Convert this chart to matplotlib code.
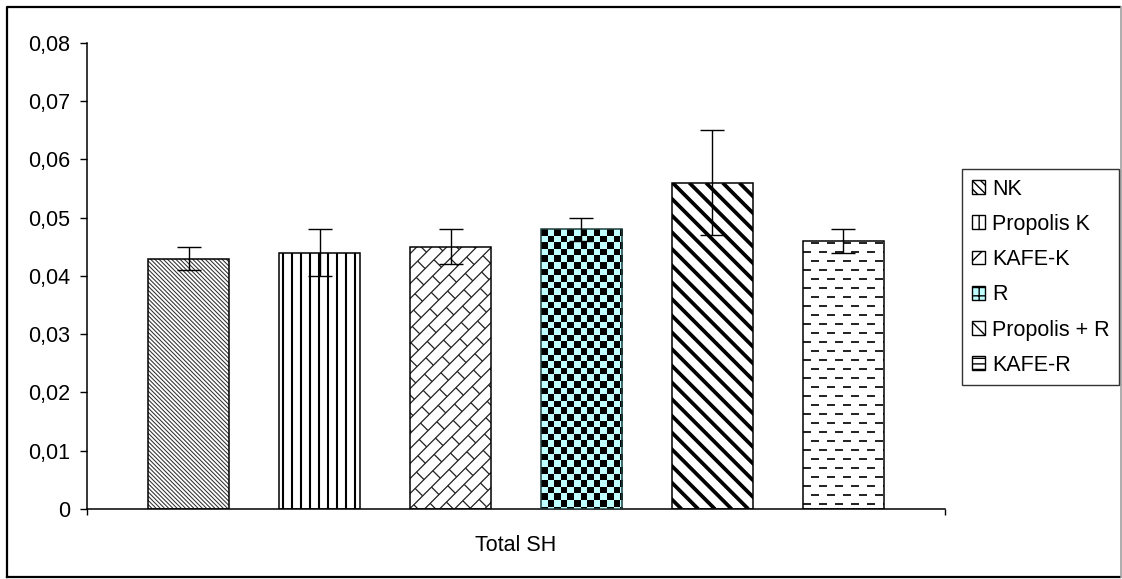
import numpy as np
import matplotlib
matplotlib.use("Agg")
import matplotlib.pyplot as plt
from matplotlib.collections import LineCollection
from matplotlib.patches import Patch
from matplotlib.lines import Line2D
from matplotlib.transforms import IdentityTransform
from matplotlib.ticker import FuncFormatter

plt.rcParams['font.family'] = ['Liberation Sans', 'DejaVu Sans']

# data
groups = ['NK', 'Propolis K', 'KAFE-K', 'R', 'Propolis + R', 'KAFE-R']
values = [0.043, 0.044, 0.045, 0.048, 0.056, 0.046]
errors = [0.002, 0.004, 0.003, 0.002, 0.009, 0.002]
category = 'Total SH'
yticks = [0, 0.01, 0.02, 0.03, 0.04, 0.05, 0.06, 0.07, 0.08]

W, H = 1122, 579
fig = plt.figure(figsize=(W / 100, H / 100), dpi=100)
ax = fig.add_axes([87 / W, (H - 509) / H, 858 / W, 466 / H])

xpos = np.arange(len(groups)) - 2.5
bw = 0.625
edge_cols = ['black', 'black', 'black', '#1f3f3f', 'black', 'black']
bars = ax.bar(xpos, values, width=bw, color='white', edgecolor='none', zorder=2)
ax.bar(xpos, values, width=bw, fill=False, edgecolor=edge_cols, linewidth=1.1, zorder=4)
ax.errorbar(xpos, values, yerr=errors, fmt='none', ecolor='black', elinewidth=1.0,
            capsize=8.6, capthick=1.0, zorder=5)

ax.set_xlim(-3.275, 3.275)
ax.set_ylim(0, 0.08)


def box_px(b):
    (x0, y0), (x1, y1) = ax.transData.transform([(b.get_x(), 0), (b.get_x() + b.get_width(), b.get_height())])
    return x0, y0, x1, y1


def diag(x0, y0, x1, y1, p, back=True):
    segs = []
    if back:  # "\" : x + y = c
        for c in np.arange(np.floor((x0 + y0) / p) * p, x1 + y1 + p, p):
            segs.append([(c - y0, y0), (c - y1, y1)])
    else:     # "/" : x - y = c
        for c in np.arange(np.floor((x0 - y1) / p) * p, x1 - y0 + p, p):
            segs.append([(c + y0, y0), (c + y1, y1)])
    return segs


def vert(x0, y0, x1, y1, p):
    return [[(x, y0), (x, y1)] for x in np.arange(x0 + 4, x1, p)]


def dashes(x0, y0, x1, y1, dy=9.0, dl=8.0, per=16.0):
    segs = []
    for r, y in enumerate(np.arange(y0 + 5, y1, dy)):
        for x in np.arange(x0 - (r % 2) * per / 2, x1, per):
            segs.append([(x, y), (x + dl, y)])
    return segs


def bricks(x0, y0, x1, y1, s=10.6, L=25.0):
    d1 = np.array([1, 1]) / np.sqrt(2)
    d2 = np.array([1, -1]) / np.sqrt(2)
    o = np.array([x0, y0])
    span = (x1 - x0) + (y1 - y0)
    segs = []
    for k in range(int(-span / s) - 2, int(span / s) + 3):
        v = k * s
        segs.append([o + (-span) * d1 + v * d2, o + (2 * span) * d1 + v * d2])
        for j in np.arange(-span / L - 2, 2 * span / L + 2):
            u = (j + 0.5 * (k % 2)) * L
            segs.append([o + u * d1 + v * d2, o + u * d1 + (v + s) * d2])
    return segs


def add_lines(b, segs, lw, color='black'):
    lc = LineCollection(segs, colors=color, linewidths=lw, transform=IdentityTransform(), zorder=3)
    ax.add_collection(lc, autolim=False)
    lc.set_clip_path(b)


b = bars[0]
add_lines(b, diag(*box_px(b), 4.2, back=True), 0.75, '#303030')
b = bars[1]
add_lines(b, vert(*box_px(b), 9.0), 1.5)
b = bars[2]
add_lines(b, bricks(*box_px(b)), 0.9, '#202020')
b = bars[3]
x0, y0, x1, y1 = box_px(b)
nx = int(np.ceil((x1 - x0) / 6.6))
ny = int(np.ceil((y1 - y0) / 6.6))
ii, jj = np.indices((ny, nx))
cell = 6.6 / (x1 - x0) * b.get_width()
cellh = 6.6 / (y1 - y0) * b.get_height()
checker = np.where((ii + jj) % 2 == 0, 0, 1)
im = ax.imshow(checker, cmap=matplotlib.colors.ListedColormap(['black', '#bfffff']),
               extent=[b.get_x(), b.get_x() + nx * cell, b.get_height() - ny * cellh, b.get_height()],
               aspect='auto', interpolation='nearest', zorder=3)
im.set_clip_path(b)
b = bars[4]
add_lines(b, diag(*box_px(b), 16.7, back=True), 2.7)
b = bars[5]
add_lines(b, dashes(*box_px(b)), 1.4, '#202020')

ax.set_xlim(-3.275, 3.275)
ax.set_ylim(0, 0.08)

# axes styling
for s in ['top', 'right']:
    ax.spines[s].set_visible(False)
ax.spines['left'].set_linewidth(1.1)
ax.spines['bottom'].set_linewidth(1.1)
ax.set_yticks(yticks)
ax.yaxis.set_major_formatter(FuncFormatter(lambda v, p: '0' if v == 0 else f'{v:.2f}'.replace('.', ',')))
ax.tick_params(axis='y', direction='out', length=5, width=1.0, pad=7, labelsize=15.5)
ax.set_xticks([-3.275, 3.275])
ax.set_xticklabels(['', ''])
ax.set_xticks([0], [category], minor=True)
ax.tick_params(axis='x', which='major', direction='out', length=4.5, width=1.0)
ax.tick_params(axis='x', which='minor', length=0, pad=19, labelsize=15.5)

# legend
handles = [
    Patch(facecolor='white', edgecolor='black', hatch='\\\\\\\\'),
    Patch(facecolor='white', edgecolor='black', hatch='||'),
    Patch(facecolor='white', edgecolor='black', hatch='//'),
    Patch(facecolor='#bfffff', edgecolor='black', hatch='++'),
    Patch(facecolor='white', edgecolor='black', hatch='\\\\'),
    Patch(facecolor='white', edgecolor='black', hatch='---'),
]
leg = fig.legend(handles, groups, loc='upper left', bbox_to_anchor=(962 / W, 1 - 169 / H),
                 frameon=True, fancybox=False, shadow=False, fontsize=15.5,
                 handlelength=0.6, handleheight=0.6, handletextpad=0.35,
                 labelspacing=0.66, borderpad=0.45, borderaxespad=0)
leg.get_frame().set_edgecolor('black')
leg.get_frame().set_linewidth(1.0)

# outer chart frame
fig.add_artist(Line2D([7 / W, 7 / W, 1120 / W], [2 / H, 572 / H, 572 / H],
                      transform=fig.transFigure, color='black', lw=1.6))
fig.add_artist(Line2D([7 / W, 1120 / W], [2.5 / H, 2.5 / H],
                      transform=fig.transFigure, color='black', lw=1.6))
fig.add_artist(Line2D([1120.5 / W, 1120.5 / W], [2 / H, 572 / H],
                      transform=fig.transFigure, color='#a0a0a0', lw=1.2))

fig.savefig('out.png', dpi=100)
